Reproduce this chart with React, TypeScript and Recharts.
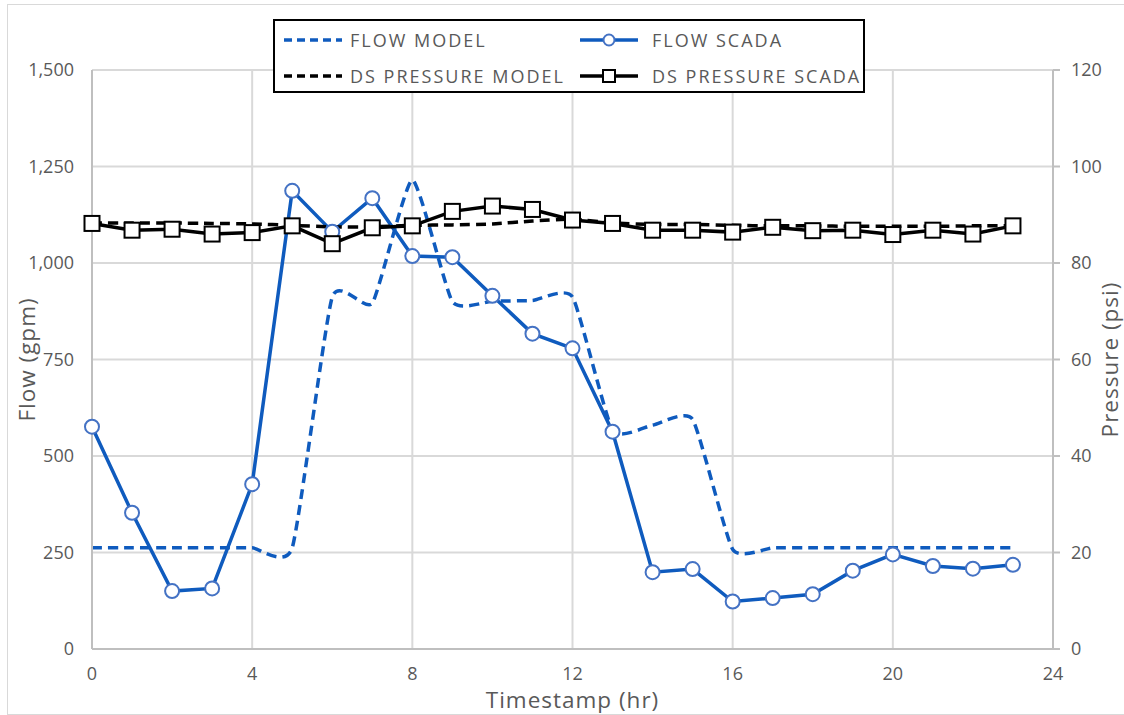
import React from 'react';
import {
  LineChart,
  Line,
  XAxis,
  YAxis,
  CartesianGrid,
  Legend,
  Label,
} from 'recharts';

const hours = [0, 1, 2, 3, 4, 5, 6, 7, 8, 9, 10, 11, 12, 13, 14, 15, 16, 17, 18, 19, 20, 21, 22, 23];

const flowModel = [262, 262, 262, 262, 262, 262, 912, 896, 1215, 900, 901, 903, 912, 567, 580, 595, 258, 262, 262, 262, 262, 262, 262, 262];
const flowScada = [576, 353, 150, 157, 427, 1187, 1081, 1168, 1018, 1015, 915, 817, 779, 563, 199, 207, 123, 132, 142, 203, 245, 215, 208, 218];
const pressureModel = [88.3, 88.3, 88.3, 88.2, 88.1, 87.8, 87.5, 87.5, 87.8, 87.9, 88.1, 88.7, 89.1, 88.3, 88.0, 88.0, 87.8, 87.7, 87.7, 87.6, 87.6, 87.6, 87.7, 87.7];
const pressureScada = [88.2, 86.8, 87.0, 86.0, 86.3, 87.7, 84.0, 87.3, 87.7, 90.7, 91.8, 91.1, 88.9, 88.2, 86.8, 86.8, 86.4, 87.4, 86.7, 86.8, 85.9, 86.8, 86.0, 87.7];

const xTicks = [0, 4, 8, 12, 16, 20, 24];
const flowTicks = [0, 250, 500, 750, 1000, 1250, 1500];
const pressureTicks = [0, 20, 40, 60, 80, 100, 120];

const BLUE = '#0F5BBE';
const TEXT = '#595959';
const FONT = '"Open Sans", sans-serif';

const data = hours.map((h, i) => ({
  hour: h,
  flowModel: flowModel[i],
  flowScada: flowScada[i],
  pressureModel: pressureModel[i],
  pressureScada: pressureScada[i],
}));

// cardinal spline (tension 0.5) - close to excel's "smoothed line"
const smoothCurve = (context: any) => {
  const k = (1 - 0.5) / 6;
  let x0 = NaN, x1 = NaN, x2 = NaN, y0 = NaN, y1 = NaN, y2 = NaN;
  let pt = 0;
  const seg = (x: number, y: number) => {
    context.bezierCurveTo(
      x1 + k * (x2 - x0),
      y1 + k * (y2 - y0),
      x2 + k * (x1 - x),
      y2 + k * (y1 - y),
      x2,
      y2
    );
  };
  return {
    areaStart() {},
    areaEnd() {},
    lineStart() {
      x0 = x1 = x2 = y0 = y1 = y2 = NaN;
      pt = 0;
    },
    lineEnd() {
      if (pt === 2) context.lineTo(x2, y2);
      else if (pt === 3) seg(x1, y1);
    },
    point(x: number, y: number) {
      x = +x;
      y = +y;
      if (pt === 0) {
        pt = 1;
        context.moveTo(x, y);
      } else if (pt === 1) {
        pt = 2;
        x1 = x;
        y1 = y;
      } else {
        pt = 3;
        seg(x, y);
      }
      x0 = x1; x1 = x2; x2 = x;
      y0 = y1; y1 = y2; y2 = y;
    },
  };
};

const SquareDot = ({ cx, cy }: { cx?: number; cy?: number }) => {
  if (cx == null || cy == null) return null;
  return <rect x={cx - 7.5} y={cy - 7.5} width={15} height={15} fill="#fff" stroke="#000" strokeWidth={2} />;
};

const legendItems = [
  { name: 'FLOW MODEL', color: BLUE, dashed: true, marker: 'none', col: 0, row: 0 },
  { name: 'FLOW SCADA', color: BLUE, dashed: false, marker: 'circle', col: 1, row: 0 },
  { name: 'DS PRESSURE MODEL', color: '#000', dashed: true, marker: 'none', col: 0, row: 1 },
  { name: 'DS PRESSURE SCADA', color: '#000', dashed: false, marker: 'square', col: 1, row: 1 },
];

const LegendBox = () => (
  <div
    style={{
      position: 'relative',
      width: 592,
      height: 74,
      boxSizing: 'border-box',
      border: '2px solid #000',
      background: '#fff',
      fontFamily: FONT,
      fontSize: 18,
      letterSpacing: 2,
      color: TEXT,
    }}
  >
    {legendItems.map((it) => {
      const left = it.col === 0 ? 7 : 303;
      const top = it.row === 0 ? 8 : 44;
      return (
        <div key={it.name} style={{ position: 'absolute', left, top, height: 22, display: 'flex', alignItems: 'center', whiteSpace: 'nowrap' }}>
          <svg width={62} height={20} style={{ marginRight: it.col === 0 ? 6 : 12 }}>
            <line
              x1={2}
              y1={10}
              x2={60}
              y2={10}
              stroke={it.color}
              strokeWidth={3.5}
              strokeDasharray={it.dashed ? '8 5' : undefined}
            />
            {it.marker === 'circle' && <circle cx={31} cy={10} r={5.5} fill="#fff" stroke="#4472C4" strokeWidth={2} />}
            {it.marker === 'square' && <rect x={25} y={4} width={12} height={12} fill="#fff" stroke="#000" strokeWidth={2} />}
          </svg>
          <span>{it.name}</span>
        </div>
      );
    })}
  </div>
);

export default function App() {
  const tickStyle = { fill: TEXT, fontSize: 18, fontFamily: FONT };
  const titleStyle = { fill: TEXT, fontSize: 22.5, fontFamily: FONT, letterSpacing: 1, textAnchor: 'middle' as const };
  return (
    <div style={{ position: 'fixed', left: 0, top: 0, width: 1124, height: 715, overflow: 'hidden', background: '#fff' }}>
      <div style={{ position: 'absolute', left: 7, top: 4, width: 1130, height: 709, border: '1px solid #d9d9d9' }} />
      <div style={{ position: 'absolute', left: 0, top: 0 }}>
        <LineChart width={1124} height={715} data={data} margin={{ top: 70, right: 0, bottom: 0, left: 0 }}>
          <CartesianGrid yAxisId="left" stroke="#d9d9d9" strokeWidth={2} />
          <XAxis
            dataKey="hour"
            type="number"
            domain={[0, 24]}
            ticks={xTicks}
            height={66}
            tickLine={false}
            tickSize={0}
            tickMargin={18}
            axisLine={{ stroke: '#bfbfbf', strokeWidth: 2 }}
            tick={tickStyle}
          >
            <Label value="Timestamp (hr)" position="center" dy={18} style={titleStyle} />
          </XAxis>
          <YAxis
            yAxisId="left"
            domain={[0, 1500]}
            ticks={flowTicks}
            width={92}
            tickLine={false}
            tickSize={0}
            tickMargin={18}
            axisLine={{ stroke: '#bfbfbf', strokeWidth: 2 }}
            tick={tickStyle}
            tickFormatter={(v: number) => v.toLocaleString('en-US')}
          >
            <Label value="Flow (gpm)" angle={-90} position="center" dx={-19} style={titleStyle} />
          </YAxis>
          <YAxis
            yAxisId="right"
            orientation="right"
            domain={[0, 120]}
            ticks={pressureTicks}
            width={71}
            tickLine={{ stroke: '#bfbfbf', strokeWidth: 2 }}
            tickSize={7}
            tickMargin={11}
            axisLine={{ stroke: '#bfbfbf', strokeWidth: 2 }}
            tick={tickStyle}
          >
            <Label value="Pressure (psi)" angle={-90} position="center" dx={22} style={titleStyle} />
          </YAxis>
          <Legend
            layout="vertical"
            align="center"
            verticalAlign="middle"
            content={() => <LegendBox />}
            wrapperStyle={{ top: 19, left: 273, width: 592, height: 74 }}
          />
          <Line
            yAxisId="left"
            dataKey="flowModel"
            name="FLOW MODEL"
            type={smoothCurve as any}
            stroke={BLUE}
            strokeWidth={3.5}
            strokeDasharray="10 6"
            dot={false}
            isAnimationActive={false}
          />
          <Line
            yAxisId="left"
            dataKey="flowScada"
            name="FLOW SCADA"
            type="linear"
            stroke={BLUE}
            strokeWidth={3.5}
            dot={{ r: 7, fill: '#fff', stroke: '#4472C4', strokeWidth: 2 }}
            isAnimationActive={false}
          />
          <Line
            yAxisId="right"
            dataKey="pressureModel"
            name="DS PRESSURE MODEL"
            type={smoothCurve as any}
            stroke="#000"
            strokeWidth={3.5}
            strokeDasharray="10 6"
            dot={false}
            isAnimationActive={false}
          />
          <Line
            yAxisId="right"
            dataKey="pressureScada"
            name="DS PRESSURE SCADA"
            type="linear"
            stroke="#000"
            strokeWidth={3.5}
            dot={<SquareDot />}
            isAnimationActive={false}
          />
        </LineChart>
      </div>
    </div>
  );
}
